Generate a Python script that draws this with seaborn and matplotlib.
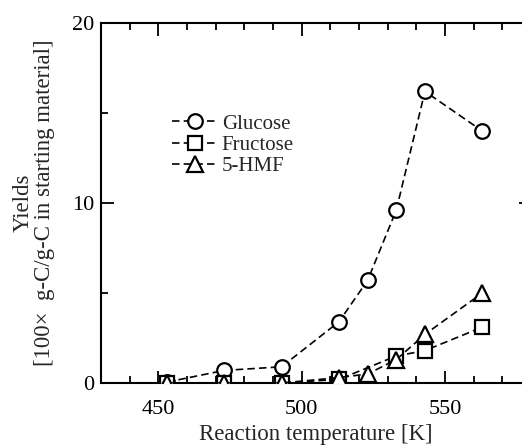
import matplotlib
matplotlib.use("Agg")
import matplotlib.pyplot as plt
import seaborn as sns
import pandas as pd
from matplotlib.ticker import MultipleLocator

sns.set_theme(style="ticks")
plt.rcParams['font.family'] = ['Liberation Serif', 'DejaVu Serif']

glucose_T = [453, 473, 493, 513, 523, 533, 543, 563]
glucose_y = [0.05, 0.7, 0.9, 3.4, 5.7, 9.6, 16.2, 14.0]
fructose_T = [453, 473, 493, 513, 533, 543, 563]
fructose_y = [0.0, 0.0, 0.0, 0.2, 1.5, 1.8, 3.1]
hmf_T = [453, 473, 493, 513, 523, 533, 543, 563]
hmf_y = [0.0, 0.0, 0.0, 0.3, 0.5, 1.3, 2.7, 5.0]

series = [("Glucose", glucose_T, glucose_y, "o"),
          ("Fructose", fructose_T, fructose_y, "s"),
          ("5-HMF", hmf_T, hmf_y, "^")]

fig = plt.figure(figsize=(5.22, 4.47), dpi=100)
ax = fig.add_axes([101/522, (447-383)/447, 430/522, 360/447])

for i, (name, T, y, m) in enumerate(series):
    df = pd.DataFrame({"T": T, "y": y})
    sns.lineplot(data=df, x="T", y="y", ax=ax, color="black", linestyle=(0, (4.5, 2.5)),
                 linewidth=1.2, marker=m, markersize=10.5 if m != "^" else 11,
                 markerfacecolor="white", markeredgecolor="black", markeredgewidth=1.6,
                 label=name, zorder=3 + i)

ax.set_xlim(430, 580)
ax.set_ylim(0, 20)
ax.xaxis.set_major_locator(MultipleLocator(50))
ax.xaxis.set_minor_locator(MultipleLocator(10))
ax.yaxis.set_major_locator(MultipleLocator(10))
ax.yaxis.set_minor_locator(MultipleLocator(5))
ax.tick_params(which="both", direction="in", top=True, right=True, colors="black",
               labelsize=16, width=1.3)
ax.tick_params(which="major", length=9)
ax.tick_params(which="minor", length=5)
ax.tick_params(axis="x", which="major", pad=12)
ax.tick_params(axis="y", which="major", pad=5)
for s in ax.spines.values():
    s.set_linewidth(1.5)
    s.set_color("black")

ax.set_xlabel("Reaction temperature [K]", fontsize=16.5, labelpad=4)
ax.set_ylabel("Yields\n[100×  g-C/g-C in starting material]", fontsize=16.5, labelpad=12,
              linespacing=1.05)

leg = ax.legend(loc="upper left", bbox_to_anchor=(0.145, 0.77), frameon=False,
                fontsize=15, handlelength=2.2, handletextpad=0.2, labelspacing=0.08,
                borderaxespad=0)

fig.savefig("out.png", dpi=100)
